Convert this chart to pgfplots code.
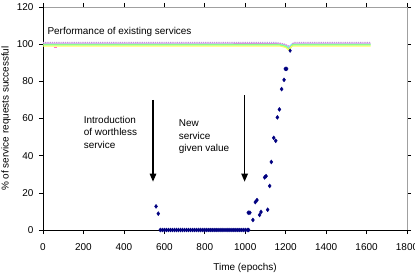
\documentclass[border=0pt]{standalone}
\usepackage{pgfplots}
\pgfplotsset{compat=1.18}
\usepackage{fontspec}
\setmainfont{Liberation Sans}
\usetikzlibrary{arrows.meta}

\definecolor{navy}{RGB}{0,0,128}
\definecolor{lgreen}{RGB}{140,255,140}
\definecolor{lyellow}{RGB}{255,255,90}
\definecolor{lpink}{RGB}{255,110,200}
\definecolor{lcyan}{RGB}{120,230,255}
\definecolor{lviolet}{RGB}{190,150,230}
\definecolor{framegray}{RGB}{160,160,160}

\begin{document}
\begin{tikzpicture}
\fontsize{10}{12}\selectfont
\begin{axis}[
  scale only axis,
  width=364bp, height=223bp,
  xmin=0, xmax=1800, ymin=0, ymax=120,
  xtick={0,200,...,1800}, ytick={0,20,...,120},
  tick align=outside,
  major tick length=4bp,
  tick style={black, line width=0.6pt},
  axis line style={draw=none},
  /pgf/number format/assume math mode=true,
  /pgf/number format/1000 sep={},
  ticklabel style={font=\fontsize{10}{12}\selectfont},
  xticklabel style={yshift=-6bp},
  yticklabel style={xshift=-2bp},
  xlabel={Time (epochs)},
  ylabel={\% of service requests successful},
  xlabel style={at={(rel axis cs:0.555,0)}, anchor=center, yshift=-38bp},
  ylabel style={at={(rel axis cs:0,0.5)}, anchor=center, rotate=0, yshift=37bp},
  clip=false,
]
% frame: grey top/right, black left/bottom
\draw[framegray, line width=0.6pt] (rel axis cs:0,1) -- (rel axis cs:1,1) -- (rel axis cs:1,0);
\draw[black, line width=0.6pt] (rel axis cs:0,1) -- (rel axis cs:0,0) -- (rel axis cs:1,0);
\coordinate (sw) at (rel axis cs:0,0);
\coordinate (ne) at (rel axis cs:1,1);

% existing services, all close to 100%
\addplot[lviolet, densely dotted, line width=1.2pt] coordinates {
  (0,100.9) (400,100.9) (800,100.9) (1150,100.9) (1190,100.2) (1210,99.2) (1225,98.6) (1240,100.9) (1620,100.9)};
\addplot[lpink, line width=0.8pt] coordinates {
  (0,100.5) (600,100.5) (1150,100.4) (1185,100.0) (1205,99.4) (1220,97.8) (1235,100.5) (1620,100.5)};
\addplot[lcyan, line width=0.8pt] coordinates {
  (0,100.1) (700,100.1) (1160,100.1) (1195,99.5) (1215,98.4) (1230,100.1) (1620,100.1)};
\addplot[lgreen, line width=1.5pt] coordinates {
  (0,99.6) (900,99.6) (1170,99.6) (1200,98.8) (1218,97.2) (1235,99.6) (1620,99.6)};
\addplot[lyellow, line width=1.0pt] coordinates {
  (0,98.9) (1000,98.9) (1175,98.9) (1200,98.2) (1215,96.8) (1230,98.9) (1620,98.9)};
\addplot[lpink, line width=1.2pt] coordinates {(55,98.3) (68,98.3)};
\addplot[navy, only marks, mark=diamond*, mark size=1.8pt] coordinates {(1222,96.5)};

% worthless service
\addplot[navy, only marks, mark=diamond*, mark size=2pt] coordinates {
  (559,12.7) (570,8.8)
  (580,0) (590,0) (600,0) (610,0) (620,0) (630,0) (640,0) (650,0) (660,0) (670,0)
  (680,0) (690,0) (700,0) (710,0) (720,0) (730,0) (740,0) (750,0) (760,0) (770,0)
  (780,0) (790,0) (800,0) (810,0) (820,0) (830,0) (840,0) (850,0) (860,0) (870,0)
  (880,0) (890,0) (900,0) (910,0) (920,0) (930,0) (940,0) (950,0) (960,0) (970,0)
  (980,0) (990,0) (1000,0) (1010,0) (1017,0)
  (1015,9.3) (1023,9.3) (1038,5.4) (1050,15.0) (1058,16.1) (1071,8.1) (1078,9.7)
  (1096,28.3) (1103,29.0) (1111,10.9) (1121,23.7) (1129,36.6) (1141,49.6) (1151,48.0)
  (1159,60.6) (1169,64.9) (1180,75.8) (1192,80.8) (1198,86.7) (1205,86.7)
};

% annotations
\node[anchor=west, align=left] at (axis cs:5,106.5) {Performance of existing services};
\node[anchor=north west, align=left, inner sep=0pt] at (axis cs:201,61.5)
  {Introduction\\[0.8pt]of worthless\\[0.8pt]service};
\node[anchor=north west, align=left, inner sep=0pt] at (axis cs:671,59.5)
  {New\\[0.8pt]service\\[0.8pt]given value};
\draw[line width=1.3pt, -{Triangle[length=8bp,width=6.5bp]}] (axis cs:544,70) -- (axis cs:544,26);
\draw[line width=1.3pt, -{Triangle[length=8bp,width=6.5bp]}] (axis cs:997,72.6) -- (axis cs:997,26);
\end{axis}
\pgfresetboundingbox
\path ([xshift=-43bp,yshift=-45bp]sw) rectangle ([xshift=8bp,yshift=7bp]ne);
\end{tikzpicture}
\end{document}
